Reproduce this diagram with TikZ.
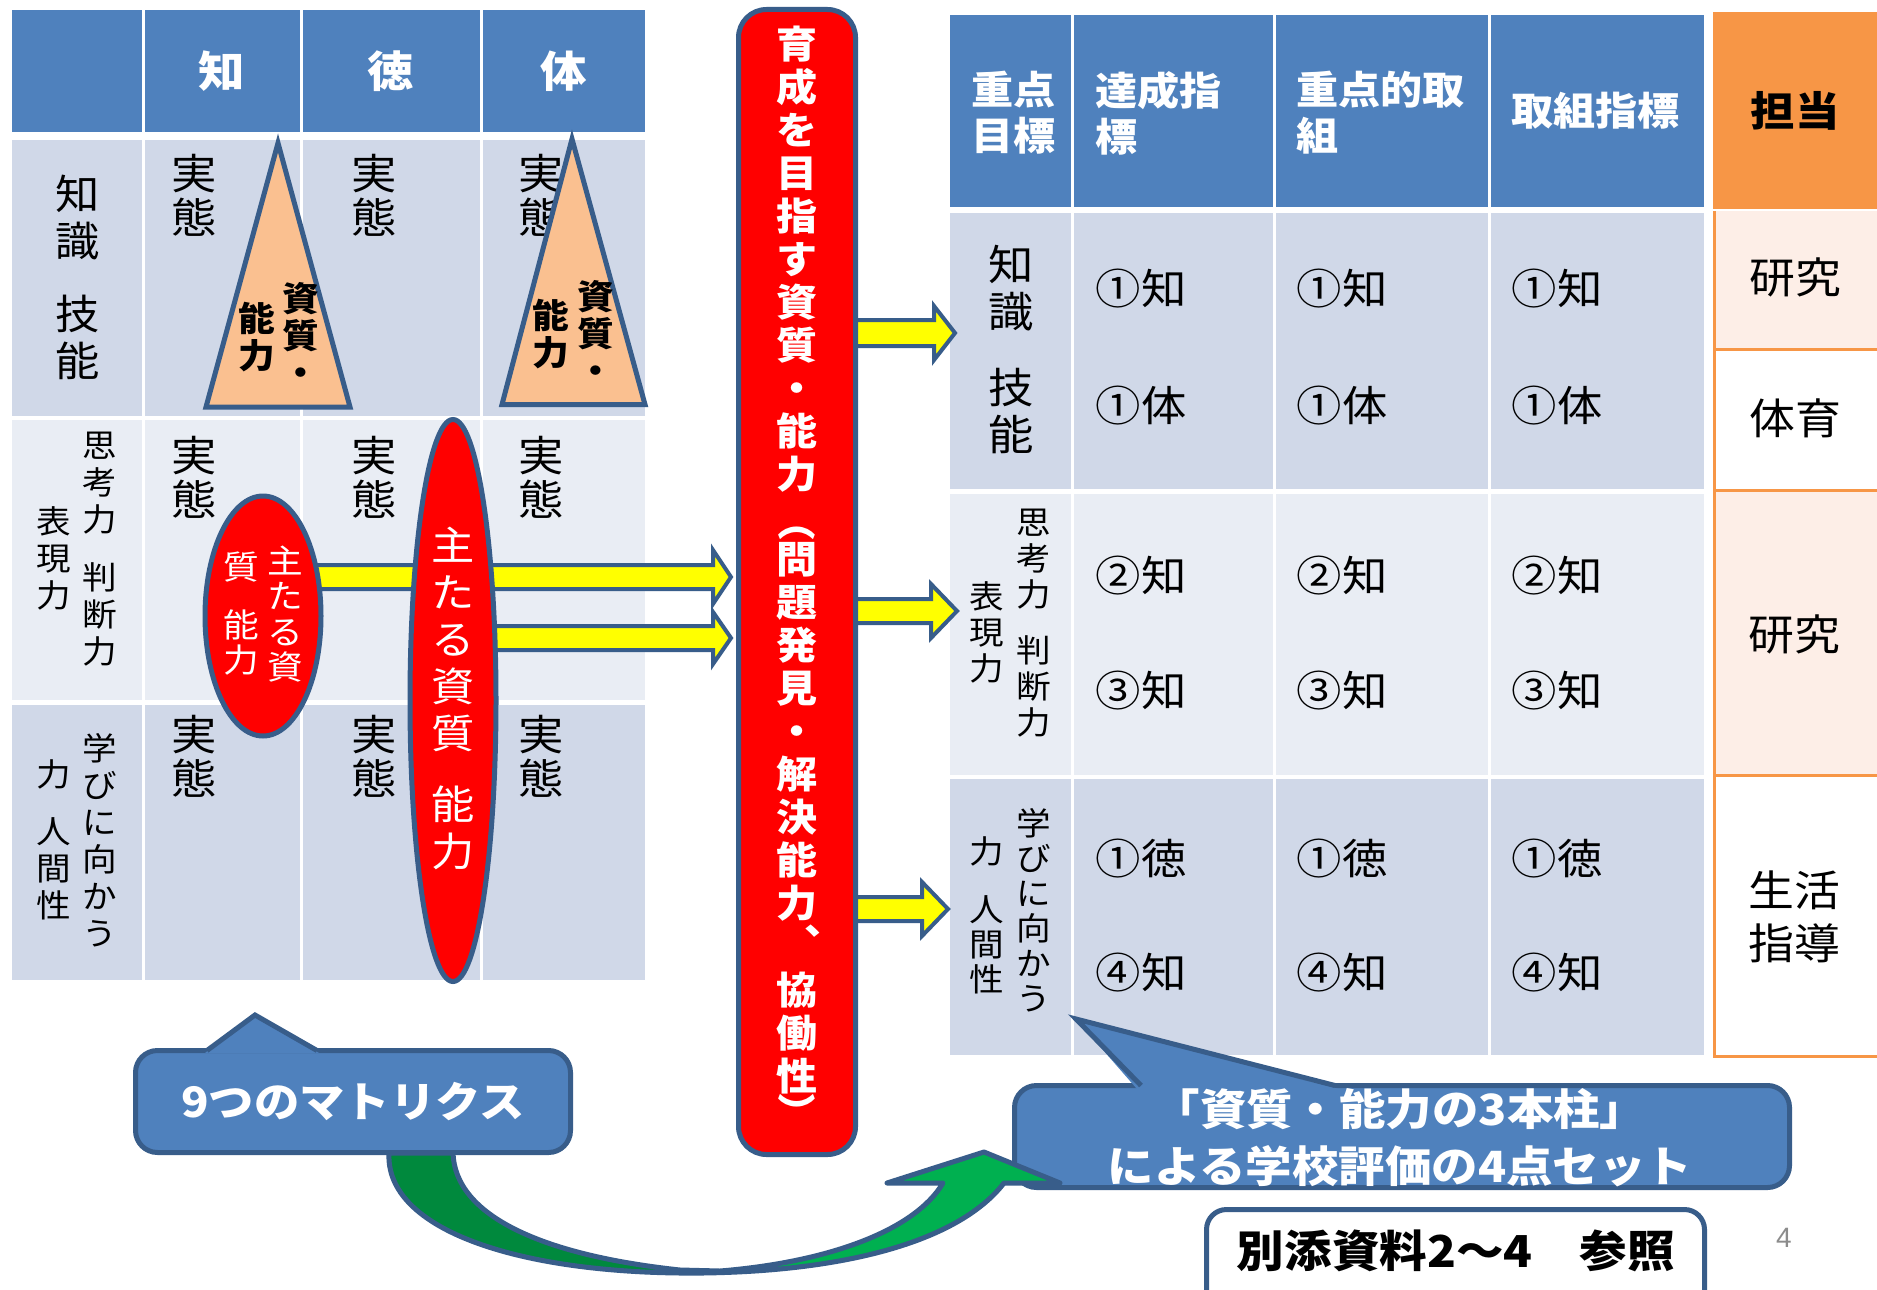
\documentclass[tikz,border=0pt]{standalone}
\usepackage{fontspec}
\setmainfont{Noto Sans CJK JP}[FakeStretch=1.08]
\newfontfamily\pgnumfont{Liberation Sans}
\usetikzlibrary{shapes.geometric}
\definecolor{hdr}{HTML}{4F81BD}
\definecolor{rowA}{HTML}{D0D8E8}
\definecolor{rowB}{HTML}{E9EDF4}
\definecolor{edgeb}{HTML}{385D8A}
\definecolor{peach}{HTML}{FAC090}
\definecolor{orng}{HTML}{F79646}
\definecolor{pinkc}{HTML}{FDEEE7}
\definecolor{gdark}{HTML}{00893D}
\definecolor{glight}{HTML}{00B050}
\definecolor{yel}{HTML}{FFFF00}
\definecolor{redc}{HTML}{FF0000}
\newcommand{\fsz}[2]{\fontsize{#1}{#2}\selectfont}
\newcommand{\yarr}[6]{%
 \draw[yarrow] ({#1},{#4-#5}) -- ({#2},{#4-#5}) -- ({#2},{#4-#6}) -- ({#3},{#4}) -- ({#2},{#4+#6}) -- ({#2},{#4+#5}) -- ({#1},{#4+#5}) -- cycle;}
\tikzset{
 txt/.style={inner sep=0pt, align=center},
 hw/.style={txt, text=white, font=\fsz{43}{46}\bfseries},
 jit/.style={txt, font=\fsz{42}{44}},
 lab/.style={txt, font=\fsz{32}{37}},
 trit/.style={txt, font=\fsz{34}{37}\bfseries},
 tri/.style={fill=peach, draw=edgeb, line width=5pt, line join=miter},
 redell/.style={ellipse, fill=redc, draw=edgeb, line width=5pt, inner sep=0pt},
 yarrow/.style={fill=yel, draw=edgeb, line width=4pt, line join=miter},
 rhd/.style={inner sep=0pt, align=left, anchor=west, text=white, font=\fsz{39}{46}\bfseries},
 cell/.style={txt, font=\fsz{42}{46}},
 tanto/.style={txt, font=\fsz{42.5}{53}},
 bart/.style={txt, text=white, font=\fsz{38}{43}\bfseries},
 callbox/.style={draw=edgeb, fill=hdr, line width=5pt, rounded corners=22pt, inner sep=0pt, text=white, align=center},
}
\begin{document}
\begin{tikzpicture}[x=1pt,y=-1pt]
\useasboundingbox (0,0) rectangle (1877,1290);
\fill[white] (0,0) rectangle (1877,1290);

% ---------- left matrix ----------
\foreach \xa/\xb in {12/142,145/300,303/480,483/645}{
  \fill[hdr] (\xa,10) rectangle (\xb,132);
  \fill[rowA] (\xa,140) rectangle (\xb,416);
  \fill[rowB] (\xa,420) rectangle (\xb,700);
  \fill[rowA] (\xa,705) rectangle (\xb,980);
}
\node[hw] (lh1) at (222,71) {知};
\node[hw] (lh2) at (391,71) {徳};
\node[hw] (lh3) at (564,71) {体};

\node[txt, font=\fsz{41}{47}] (lr1) at (78,277) {知\\識\\[26pt]技\\能};
\node[lab] (lr2a) at (100,549) {思\\考\\力\\[21pt]判\\断\\力};
\node[lab] (lr2b) at (54,558) {表\\現\\力};
\node[lab] (lr3a) at (100,840) {学\\び\\に\\向\\か\\う};
\node[lab] (lr3b) at (54,840) {力\\[20pt]人\\間\\性};

\foreach \xx/\nm in {194/a,374/b,541/c}{
  \foreach \yy/\rn in {195/1,477/2,756/3}{
    \node[jit] (jt\nm\rn) at (\xx,\yy) {実\\態};
  }
}

% triangles
\draw[tri] (278,143) -- (350,407) -- (206,407) -- cycle;
\draw[tri] (572,139) -- (645,404.5) -- (502,404.5) -- cycle;
\node[trit] (t1a) at (301,334) {資\\質\\・};
\node[trit] (t1b) at (257,337) {能\\力};
\node[trit] (t2a) at (596,332) {資\\質\\・};
\node[trit] (t2b) at (551,334) {能\\力};

% yellow arrows (left)
\yarr{300}{713}{731}{577}{12}{27}
\yarr{470}{713}{731}{638}{12}{26}

% ellipses
\node[redell, minimum width=116pt, minimum height=240pt] (se) at (263,616) {};
\node[txt, text=white, font=\fsz{33}{35.5}] (se1) at (285,614) {主\\た\\る\\資};
\node[txt, text=white, font=\fsz{33}{35.5}] (se2) at (241,614) {質\\[22pt]能\\力};
\node[redell, minimum width=86pt, minimum height=562pt] (be) at (453,700.5) {};
\node[txt, text=white, font=\fsz{40}{47}] (bet) at (453,698) {主\\た\\る\\資\\質\\[24pt]能\\力};

% ---------- right table ----------
\foreach \xa/\xb in {950/1071,1074/1273,1276/1488,1491/1704}{
  \fill[hdr] (\xa,15) rectangle (\xb,207);
  \fill[rowA] (\xa,213) rectangle (\xb,489);
  \fill[rowB] (\xa,494) rectangle (\xb,775);
  \fill[rowA] (\xa,779) rectangle (\xb,1055);
}
\node[rhd] (rh1) at (971,113) {重点\\目標};
\node[rhd] (rh2) at (1095,113) {達成指\\標};
\node[rhd] (rh3) at (1296,113) {重点的取\\組};
\node[rhd] (rh4) at (1511,111) {取組指標};

\node[txt, font=\fsz{42}{47}] (rr1) at (1011,349.5) {知\\識\\[29pt]技\\能};
\node[txt, font=\fsz{32}{36}] (rr2a) at (1034,623) {思\\考\\力\\[20pt]判\\断\\力};
\node[txt, font=\fsz{32}{36}] (rr2b) at (987,632) {表\\現\\力};
\node[txt, font=\fsz{32}{35}] (rr3a) at (1034,910.5) {学\\び\\に\\向\\か\\う};
\node[txt, font=\fsz{32}{35}] (rr3b) at (987,915.5) {力\\[23pt]人\\間\\性};

\foreach \xx/\cn in {1141/a,1342/b,1557/c}{
  \node[cell] (c\cn1) at (\xx,289) {①知};
  \node[cell] (c\cn2) at (\xx,406) {①体};
  \node[cell] (c\cn3) at (\xx,576) {②知};
  \node[cell] (c\cn4) at (\xx,691) {③知};
  \node[cell] (c\cn5) at (\xx,859) {①徳};
  \node[cell] (c\cn6) at (\xx,973) {④知};
}

% tanto column
\fill[orng] (1713,12) rectangle (1877,209);
\fill[pinkc] (1713,211) rectangle (1877,349);
\fill[pinkc] (1713,490) rectangle (1877,775);
\draw[orng, line width=3pt] (1714.5,211) -- (1714.5,1056) -- (1877,1056);
\draw[orng, line width=3pt] (1713,349) -- (1877,349) (1713,490) -- (1877,490) (1713,775) -- (1877,775);
\node[txt, font=\fsz{41}{46}\bfseries] (tt) at (1795,111) {担当};
\node[tanto] (ta1) at (1795,277) {研究};
\node[tanto] (ta2) at (1795,418) {体育};
\node[tanto] (ta3) at (1794,634) {研究};
\node[tanto] (ta4) at (1794,917) {生活\\指導};

% yellow arrows (right)
\yarr{850}{934}{955}{333}{13}{27}
\yarr{850}{931}{957}{611}{12}{27}
\yarr{850}{922}{948}{909}{12}{27}

% ---------- red bar ----------
\node[draw=edgeb, fill=redc, line width=5pt, rounded corners=28pt, minimum width=117pt, minimum height=1145pt, inner sep=0pt] (bar) at (797,582) {};
\node[bart] (rb1) at (797,259) {育\\成\\を\\目\\指\\す\\資\\質\\・\\能\\力};
\node[bart, rotate=-90] (rbp1) at (797,521) {（};
\node[bart] (rb2) at (797,732) {問\\題\\発\\見\\・\\解\\決\\能\\力\rlap{\hspace{-13pt}\raisebox{-16.5pt}[0pt][0pt]{、}}};
\node[bart] (rb3) at (797,1033) {協\\働\\性};
\node[bart, rotate=-90] (rbp2) at (797,1113.5) {）};

% ---------- callouts ----------
\node[callbox, minimum width=435pt, minimum height=102pt, font=\fsz{42}{46}\bfseries] (mat) at (353,1101.5) {9つのマトリクス};
\fill[hdr] (205,1053) -- (255,1015) -- (319,1053) -- cycle;
\draw[edgeb, line width=5pt, line join=miter] (207,1050.5) -- (255,1015) -- (317,1050.5);

\node[callbox, minimum width=775pt, minimum height=102pt] (set) at (1402,1136.5) {};
\fill[hdr] (1137,1089) -- (1076,1019) -- (1339,1089) -- cycle;
\draw[edgeb, line width=5pt, line join=miter] (1141,1085.5) -- (1076,1019) -- (1335,1085.5);
\node[txt, text=white, font=\fsz{43}{57}\bfseries] (sett) at (1400,1138) {「資質・能力の3本柱」\\による学校評価の4点セット};

\draw[edgeb, line width=5pt, fill=white, rounded corners=20pt] (1206.5,1209.5) rectangle (1704.5,1340);
\node[txt, font=\fsz{44}{48}\bfseries] (ref) at (1456,1251) {別添資料2～4　参照};
\node[txt, text=black!45, font=\pgnumfont\fsz{28}{30}] (pg) at (1784,1238) {4};

% ---------- green curved arrow ----------
\fill[glight] (389,1153) .. controls (385,1230) and (520,1275) .. (703,1273)
 .. controls (850,1271) and (960,1240) .. (1004,1183)
 -- (1060,1183) -- (984,1152) -- (887,1183) -- (943,1183)
 .. controls (915,1230) and (830,1262) .. (720,1271)
 -- (680,1270) .. controls (540,1255) and (455,1215) .. (453,1153) -- cycle;
\begin{scope}
\clip (300,1140) rectangle (700,1290);
\fill[gdark] (389,1153) .. controls (385,1230) and (520,1275) .. (703,1273)
 .. controls (850,1271) and (960,1240) .. (1004,1183)
 -- (1060,1183) -- (984,1152) -- (887,1183) -- (943,1183)
 .. controls (915,1230) and (830,1262) .. (720,1271)
 -- (680,1270) .. controls (540,1255) and (455,1215) .. (453,1153) -- cycle;
\end{scope}
\draw[edgeb, line width=5pt, line join=round] (389,1153) .. controls (385,1230) and (520,1275) .. (703,1273)
 .. controls (850,1271) and (960,1240) .. (1004,1183)
 -- (1060,1183) -- (984,1152) -- (887,1183) -- (943,1183)
 .. controls (915,1230) and (830,1262) .. (720,1271)
 -- (680,1270) .. controls (540,1255) and (455,1215) .. (453,1153) -- cycle;
\end{tikzpicture}
\end{document}
